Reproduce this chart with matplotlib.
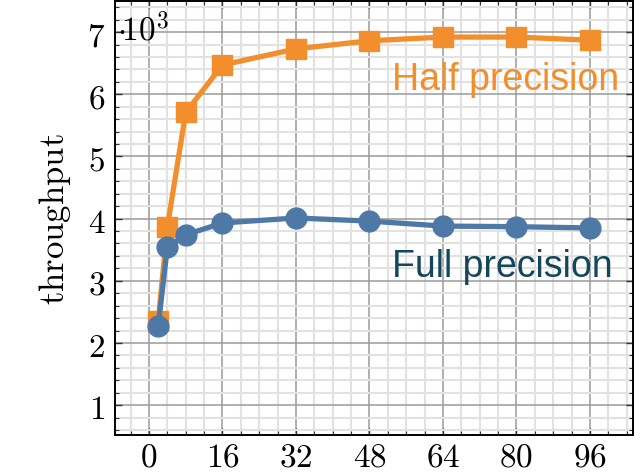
import numpy as np
import matplotlib
matplotlib.use("Agg")
import matplotlib.pyplot as plt
from matplotlib.ticker import MultipleLocator, FuncFormatter

plt.rcParams['mathtext.fontset'] = 'cm'

# batch size vs throughput (in 10^3)
batch = [2, 4, 8, 16, 32, 48, 64, 80, 96]
half_tp = [2.35, 3.87, 5.71, 6.47, 6.73, 6.86, 6.92, 6.92, 6.87]
full_tp = [2.27, 3.54, 3.74, 3.93, 4.01, 3.96, 3.88, 3.87, 3.85]

orange = '#F28E2B'
blue = '#4E79A7'
teal = '#15475C'

fig = plt.figure(figsize=(6.44, 4.77), dpi=100)
ax = fig.add_axes([0.1786, 0.086, 0.8044, 0.9098])

ax.plot(batch, full_tp, color=blue, lw=3.8, marker='o', ms=15, zorder=3)
ax.plot(batch, half_tp, color=orange, lw=3.8, marker='s', ms=15, zorder=2)

ax.set_xlim(-7.4, 105.4)
ax.set_ylim(0.52, 7.5)

ax.xaxis.set_major_locator(MultipleLocator(16))
ax.xaxis.set_minor_locator(MultipleLocator(4))
ax.yaxis.set_major_locator(MultipleLocator(1))
ax.yaxis.set_minor_locator(MultipleLocator(0.2))
fmt = FuncFormatter(lambda v, p: r'$%d$' % round(v))
ax.xaxis.set_major_formatter(fmt)
ax.yaxis.set_major_formatter(fmt)

ax.grid(which='minor', color='#e2e2e2', lw=1.5, zorder=0)
ax.grid(which='major', color='#9a9a9a', lw=1.1, zorder=1)
ax.set_axisbelow(True)

ax.tick_params(which='both', direction='in', top=True, right=True, labelsize=24, color='#333333')
ax.tick_params(axis='y', which='major', length=5, width=1, pad=7)
ax.tick_params(axis='x', which='major', length=5, width=1, pad=3)
ax.tick_params(which='minor', length=3, width=0.8)
for s in ax.spines.values():
    s.set_linewidth(1.4)

ax.set_ylabel(r'$\mathrm{throughput}$', fontsize=25, labelpad=10)
ax.text(0.003, 0.935, r'$\mathbf{\cdot}\!10^3$', transform=ax.transAxes, fontsize=24, va='center', ha='left')

ax.text(53, 6.24, 'Half precision', color=orange, fontsize=27, family='Liberation Sans', va='center', ha='left')
ax.text(53, 3.24, 'Full precision', color=teal, fontsize=27, family='Liberation Sans', va='center', ha='left')

fig.savefig('out.png', dpi=100)
